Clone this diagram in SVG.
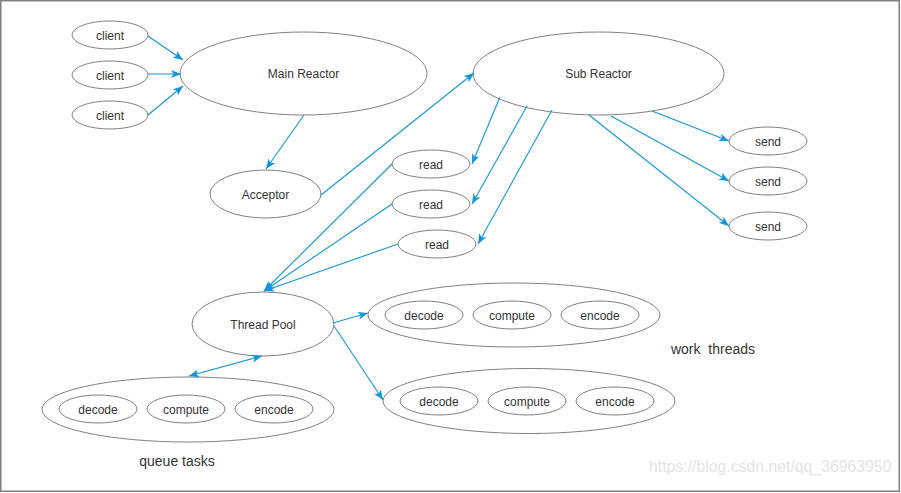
<svg xmlns="http://www.w3.org/2000/svg" width="901" height="493" viewBox="0 0 901 493">
<style>
.n ellipse{fill:#fff;stroke:#808080;stroke-width:1}
.g{fill:none;stroke:#808080;stroke-width:1}
text{font-family:"Liberation Sans",Arial,sans-serif;font-size:12px;fill:#333;text-anchor:middle;dominant-baseline:central}
.c line{stroke:#1296db;stroke-width:1.1;marker-end:url(#ah)}
.lbl{font-size:14px}
.wm{font-size:15.8px;fill:#e4e4e4;text-anchor:start}
</style>
<defs>
<marker id="ah" viewBox="0 0 10 8" refX="10" refY="4" markerWidth="10" markerHeight="8" markerUnits="userSpaceOnUse" orient="auto-start-reverse">
<path d="M0,0 L10,4 L0,8 L2.5,4 z" fill="#1296db"/>
</marker>
</defs>
<rect x="0" y="0" width="901" height="493" fill="#fff"/>
<rect x="0.75" y="0.75" width="898.5" height="490.5" fill="none" stroke="#7f7f7f" stroke-width="1.5"/>

<g id="queue-tasks"><ellipse class="g" cx="188" cy="409.5" rx="146" ry="32.5"/><text class="lbl" x="177" y="461">queue tasks</text></g>
<g id="work-threads-1"><ellipse class="g" cx="514" cy="315" rx="146" ry="32"/></g>
<g id="work-threads-2"><ellipse class="g" cx="529" cy="401" rx="146" ry="32.5"/></g>
<g id="work-threads-label"><text class="lbl" x="713" y="349" xml:space="preserve">work  threads</text></g>

<g class="n" id="client1"><ellipse cx="110" cy="35" rx="38" ry="14"/><text x="110" y="35.5">client</text></g>
<g class="n" id="client2"><ellipse cx="110" cy="75" rx="38" ry="14"/><text x="110" y="75.5">client</text></g>
<g class="n" id="client3"><ellipse cx="110" cy="115" rx="38" ry="14"/><text x="110" y="115.5">client</text></g>
<g class="n" id="main-reactor"><ellipse cx="303.5" cy="73.5" rx="123.5" ry="41.5"/><text x="303.5" y="74">Main Reactor</text></g>
<g class="n" id="sub-reactor"><ellipse cx="598.5" cy="73.5" rx="125.5" ry="41.5"/><text x="598.5" y="74">Sub Reactor</text></g>
<g class="n" id="acceptor"><ellipse cx="265.5" cy="194" rx="55.5" ry="24"/><text x="265.5" y="194.5">Acceptor</text></g>
<g class="n" id="read1"><ellipse cx="431" cy="164" rx="39" ry="14"/><text x="431" y="164.5">read</text></g>
<g class="n" id="read2"><ellipse cx="431" cy="204" rx="39" ry="14"/><text x="431" y="204.5">read</text></g>
<g class="n" id="read3"><ellipse cx="437" cy="244" rx="39" ry="14"/><text x="437" y="244.5">read</text></g>
<g class="n" id="send1"><ellipse cx="768" cy="141" rx="39" ry="14"/><text x="768" y="141.5">send</text></g>
<g class="n" id="send2"><ellipse cx="768" cy="181" rx="39" ry="14"/><text x="768" y="181.5">send</text></g>
<g class="n" id="send3"><ellipse cx="768" cy="226" rx="39" ry="14"/><text x="768" y="226.5">send</text></g>
<g class="n" id="thread-pool"><ellipse cx="263" cy="324" rx="71" ry="32"/><text x="263" y="324.5">Thread Pool</text></g>

<g class="n" id="q-decode"><ellipse cx="98" cy="409" rx="39" ry="14"/><text x="98" y="409.5">decode</text></g>
<g class="n" id="q-compute"><ellipse cx="186" cy="409" rx="39" ry="14"/><text x="186" y="409.5">compute</text></g>
<g class="n" id="q-encode"><ellipse cx="274" cy="409" rx="39" ry="14"/><text x="274" y="409.5">encode</text></g>
<g class="n" id="w1-decode"><ellipse cx="424" cy="315" rx="39" ry="14"/><text x="424" y="315.5">decode</text></g>
<g class="n" id="w1-compute"><ellipse cx="512" cy="315" rx="39" ry="14"/><text x="512" y="315.5">compute</text></g>
<g class="n" id="w1-encode"><ellipse cx="600" cy="315" rx="39" ry="14"/><text x="600" y="315.5">encode</text></g>
<g class="n" id="w2-decode"><ellipse cx="439" cy="401" rx="39" ry="14"/><text x="439" y="401.5">decode</text></g>
<g class="n" id="w2-compute"><ellipse cx="527" cy="401" rx="39" ry="14"/><text x="527" y="401.5">compute</text></g>
<g class="n" id="w2-encode"><ellipse cx="615" cy="401" rx="39" ry="14"/><text x="615" y="401.5">encode</text></g>

<g class="c" id="connectors">
<line x1="148" y1="36" x2="183" y2="60"/>
<line x1="148" y1="74" x2="181" y2="74"/>
<line x1="148" y1="115" x2="183" y2="86"/>
<line x1="304" y1="115" x2="266" y2="169"/>
<line x1="321" y1="195" x2="474" y2="73"/>
<line x1="500" y1="97" x2="472" y2="164"/>
<line x1="527" y1="106" x2="472" y2="204"/>
<line x1="552" y1="110" x2="478" y2="244"/>
<line x1="652" y1="111" x2="729" y2="141"/>
<line x1="611" y1="116" x2="729" y2="181"/>
<line x1="589" y1="115" x2="729" y2="226"/>
<line x1="392" y1="164" x2="264" y2="291"/>
<line x1="392" y1="204" x2="264" y2="291"/>
<line x1="398" y1="244" x2="264" y2="291"/>
<line x1="333" y1="323" x2="368" y2="313"/>
<line x1="334" y1="326" x2="383" y2="400"/>
<line x1="189" y1="376" x2="262" y2="356" style="marker-start:url(#ah)"/>
</g>
<text class="wm" x="649" y="466">https://blog.csdn.net/qq_36963950</text>
</svg>
